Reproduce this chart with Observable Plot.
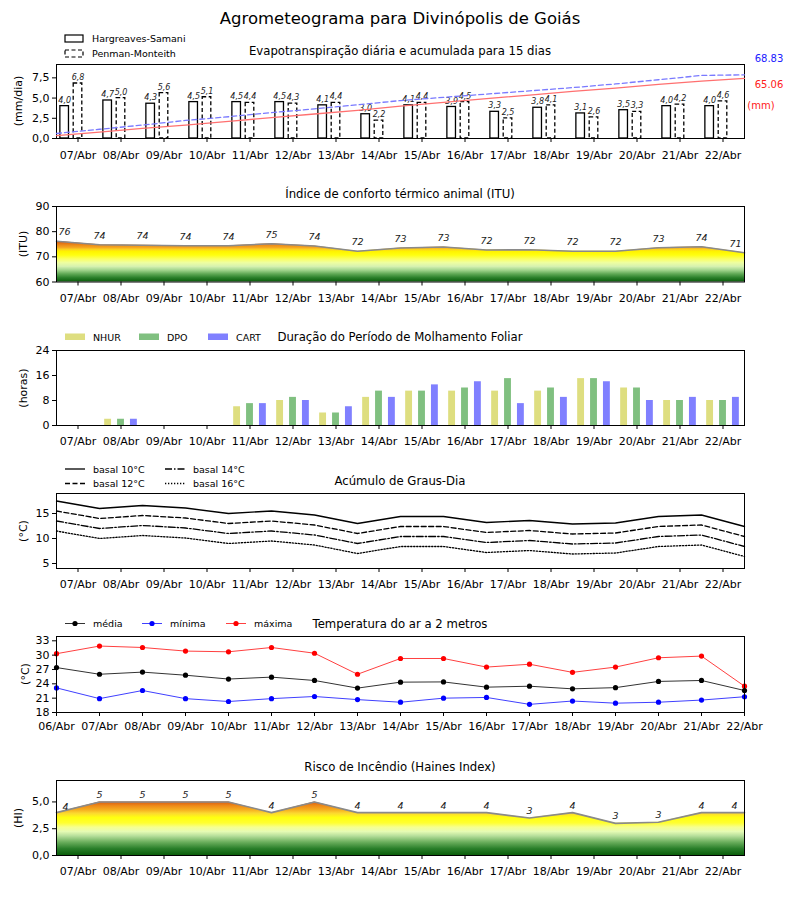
<!DOCTYPE html>
<html><head><meta charset="utf-8">
<script src="https://cdn.jsdelivr.net/npm/d3@7"></script>
<script src="https://cdn.jsdelivr.net/npm/@observablehq/plot@0.6"></script>
<style>
body{margin:0;background:#fff;font-family:"DejaVu Sans",sans-serif;}
#root{position:relative;width:800px;height:900px;overflow:hidden;background:#fff;}
</style></head><body><div id="root"></div>
<script>
// ---------- DATA ----------
const days = ["07/Abr","08/Abr","09/Abr","10/Abr","11/Abr","12/Abr","13/Abr","14/Abr","15/Abr","16/Abr","17/Abr","18/Abr","19/Abr","20/Abr","21/Abr","22/Abr"];
const daysTemp = ["06/Abr","07/Abr","08/Abr","09/Abr","10/Abr","11/Abr","12/Abr","13/Abr","14/Abr","15/Abr","16/Abr","17/Abr","18/Abr","19/Abr","20/Abr","21/Abr","22/Abr"];

const etHS = [4.0,4.7,4.3,4.5,4.5,4.5,4.1,3.0,4.1,3.9,3.3,3.8,3.1,3.5,4.0,4.0];
const etPM = [6.8,5.0,5.6,5.1,4.4,4.3,4.4,2.2,4.4,4.5,2.5,4.1,2.6,3.3,4.2,4.6];
const cumHS = [3.2,7.0,11.0,14.5,18.5,22.5,26.5,30.5,35.0,39.0,43.0,47.0,51.0,54.5,58.5,62.0,65.06];
const cumPM = [5.4,10.0,14.5,19.5,23.5,28.0,32.0,36.5,41.0,44.5,48.0,51.5,55.0,59.0,63.5,68.2,68.83];
const cumHSLabel = "65.06", cumPMLabel = "68.83";

const itu = [76.2,74.8,74.6,74.4,74.4,75.2,74.3,72.2,73.5,73.9,72.7,72.8,72.2,72.2,73.6,74.0,71.6];

const nhur = [0,2,0,0,6,8,4,9,11,11,11,11,15,12,8,8];
const dpo  = [0,2,0,0,7,9,4,11,11,12,15,12,15,12,8,8];
const cart = [0,2,0,0,7,8,6,9,13,14,7,9,14,8,9,9];

const gd10 = [17.5,16.0,16.6,16.1,15.0,15.5,14.7,13.0,14.4,14.4,13.2,13.6,12.9,13.1,14.4,14.7,12.4];
const gd12 = [15.5,14.0,14.6,14.1,13.0,13.5,12.7,11.0,12.4,12.4,11.2,11.6,10.9,11.1,12.4,12.7,10.4];
const gd14 = [13.5,12.0,12.6,12.1,11.0,11.5,10.7,9.0,10.4,10.4,9.2,9.6,8.9,9.1,10.4,10.7,8.4];
const gd16 = [11.5,10.0,10.6,10.1,9.0,9.5,8.7,7.0,8.4,8.4,7.2,7.6,6.9,7.1,8.4,8.7,6.4];

const tMed = [27.4,26.0,26.45,25.8,25.0,25.4,24.7,23.1,24.35,24.4,23.3,23.5,22.95,23.2,24.5,24.7,22.6];
const tMin = [23.15,20.9,22.6,20.9,20.3,20.9,21.35,20.7,20.15,21.0,21.15,19.7,20.4,19.95,20.15,20.6,21.3];
const tMax = [30.3,31.9,31.6,30.85,30.7,31.6,30.4,26.0,29.3,29.3,27.5,28.1,26.4,27.5,29.45,29.8,23.5];

const haines = [4,5,5,5,5,4,5,4,4,4,4,3.5,4,3,3.1,4,4];

// ---------- HELPERS ----------
const FONT = "DejaVu Sans";
const root = document.getElementById("root");
const fmt1 = v => v.toFixed(1).replace(".", ",");
const MT = 10, MB = 32;

function place(el, top) {
  el.style.position = "absolute";
  el.style.left = "0px";
  el.style.top = top + "px";
  root.appendChild(el);
}

function panel({top, h, yDomain, yTicks, yFmt, marks, xDomain = [-0.5, 15.5], xTicks = d3.range(16), xFmt = i => days[i], pad = 8}) {
  const p = Plot.plot({
    width: 800, height: MT + h + MB,
    marginTop: MT, marginBottom: MB, marginLeft: 56, marginRight: 56,
    style: {fontFamily: FONT, fontSize: "11px", color: "black", background: "transparent", overflow: "visible"},
    x: {domain: xDomain},
    y: {domain: yDomain},
    marks: [
      ...marks,
      Plot.frame({stroke: "black", strokeWidth: 1}),
      Plot.axisX({ticks: xTicks, tickFormat: xFmt, tickSize: 4, tickPadding: pad, label: null}),
      Plot.axisY({ticks: yTicks, tickFormat: yFmt, tickSize: 4, tickPadding: 3, label: null})
    ]
  });
  place(p, top - MT);
  return p;
}

function addGradient(plot, id, stops) {
  const y = plot.scale("y");
  const [d0, d1] = y.domain;
  const svg = d3.select(plot);
  const defs = svg.insert("defs", ":first-child");
  const g = defs.append("linearGradient").attr("id", id)
    .attr("gradientUnits", "userSpaceOnUse")
    .attr("x1", 0).attr("x2", 0)
    .attr("y1", y.apply(d0)).attr("y2", y.apply(d1));
  for (const [v, c] of stops) g.append("stop").attr("offset", (v - d0) / (d1 - d0)).attr("stop-color", c);
}

// ---------- PANEL 1: Evapotranspiração ----------
const et = days.map((d, i) => ({i, hs: etHS[i], pm: etPM[i]}));
panel({
  top: 64, h: 74, yDomain: [0, 9.15], yTicks: [0, 2.5, 5, 7.5], yFmt: fmt1, pad: 9,
  marks: [
    Plot.rect(et, {x1: d => d.i - 0.41, x2: d => d.i - 0.21, y1: d => 0, y2: "hs", fill: "white", stroke: "black", strokeWidth: 1.3}),
    Plot.rect(et, {x1: d => d.i - 0.1, x2: d => d.i + 0.1, y1: d => 0, y2: "pm", fill: "white", stroke: "black", strokeWidth: 1.3, strokeDasharray: "4,2.5"}),
    Plot.text(et, {x: d => d.i - 0.31, y: "hs", text: d => fmt1(d.hs), dy: -6, fontSize: 8, fontStyle: "italic", fill: "#222"}),
    Plot.text(et, {x: d => d.i, y: "pm", text: d => fmt1(d.pm), dy: -6, fontSize: 8, fontStyle: "italic", fill: "#222"})
  ]
});
// cumulative overlay (secondary scale)
const cumPlot = Plot.plot({
  width: 800, height: MT + 74 + MB, marginTop: MT, marginBottom: MB, marginLeft: 56, marginRight: 56,
  style: {background: "transparent", overflow: "visible"},
  x: {domain: [-0.5, 15.5], axis: null}, y: {domain: [0, 80], axis: null},
  marks: [
    Plot.line(cumHS, {x: (d, k) => k - 0.5, y: d => d, stroke: "#ff7070", strokeWidth: 1.3}),
    Plot.line(cumPM, {x: (d, k) => k - 0.5, y: d => d, stroke: "#7a7aff", strokeWidth: 1.3, strokeDasharray: "5,3"})
  ]
});
place(cumPlot, 64 - MT);

// ---------- PANEL 2: ITU ----------
const ituData = itu.map((v, k) => ({k, v}));
const p2 = panel({
  top: 206, h: 75.5, yDomain: [60, 90], yTicks: [60, 70, 80, 90], yFmt: d => d,
  marks: [
    Plot.areaY(ituData, {x: d => d.k - 0.5, y1: d => 60, y2: "v", fill: "url(#gradItu)"}),
    Plot.line(ituData, {x: d => d.k - 0.5, y: "v", stroke: "#8a8a8a", strokeWidth: 1.6}),
    Plot.text(ituData.slice(1, -1), {x: d => d.k - 0.5, y: "v", text: d => Math.floor(d.v), dy: -9, fontSize: 9.5, fontStyle: "italic", fill: "#222"}),
    Plot.text(ituData.slice(0, 1), {x: d => d.k - 0.5, y: "v", text: d => Math.floor(d.v), dy: -9, dx: 8, fontSize: 9.5, fontStyle: "italic", fill: "#222"}),
    Plot.text(ituData.slice(-1), {x: d => d.k - 0.5, y: "v", text: d => Math.floor(d.v), dy: -9, dx: -9, fontSize: 9.5, fontStyle: "italic", fill: "#222"})
  ]
});
addGradient(p2, "gradItu", [
  [60, "#0b5e0b"], [61.5, "#2a7f2a"], [63, "#5ea854"], [64.5, "#a0d48c"], [66, "#d6f2b0"],
  [67.5, "#eeffa0"], [69, "#fbff60"], [70.5, "#ffff10"], [72, "#fff200"], [72.8, "#fcd020"],
  [73.5, "#f5a820"], [74.5, "#ec8a18"], [75.5, "#e06810"], [77, "#d04a08"], [90, "#b00000"]
]);

// ---------- PANEL 3: Molhamento foliar ----------
const wet = days.map((d, i) => ({i, a: nhur[i], b: dpo[i], c: cart[i]}));
panel({
  top: 350, h: 75, yDomain: [0, 24], yTicks: [0, 8, 16, 24], yFmt: d => d,
  marks: [
    Plot.rect(wet, {x1: d => d.i - 0.38, x2: d => d.i - 0.22, y1: d => 0, y2: "a", fill: "#dede80"}),
    Plot.rect(wet, {x1: d => d.i - 0.08, x2: d => d.i + 0.08, y1: d => 0, y2: "b", fill: "#80c080"}),
    Plot.rect(wet, {x1: d => d.i + 0.22, x2: d => d.i + 0.38, y1: d => 0, y2: "c", fill: "#8080ff"})
  ]
});

// ---------- PANEL 4: Graus-dia ----------
const gdLine = (arr, dash) => Plot.line(arr, {x: (d, k) => k - 0.5, y: d => d, stroke: "black", strokeWidth: 1.3, strokeDasharray: dash});
panel({
  top: 493, h: 75, yDomain: [4, 19], yTicks: [5, 10, 15], yFmt: d => d,
  marks: [
    gdLine(gd10, null), gdLine(gd12, "5,2.5"), gdLine(gd14, "7,2,1.5,2"), gdLine(gd16, "1.3,1.7")
  ]
});

// ---------- PANEL 5: Temperatura ----------
const tSeries = (arr, c, lc) => [
  Plot.line(arr, {x: (d, k) => k, y: d => d, stroke: lc, strokeWidth: 1}),
  Plot.dot(arr, {x: (d, k) => k, y: d => d, fill: c, r: 2.6})
];
panel({
  top: 636, h: 76, yDomain: [18, 33.9], yTicks: [18, 21, 24, 27, 30, 33], yFmt: d => d, pad: 6,
  xDomain: [0, 16], xTicks: d3.range(17), xFmt: k => daysTemp[k],
  marks: [...tSeries(tMax, "red", "#ff4040"), ...tSeries(tMed, "black", "#333"), ...tSeries(tMin, "blue", "#4040ff")]
});

// ---------- PANEL 6: Haines ----------
const hData = haines.map((v, k) => ({k, v}));
const p6 = panel({
  top: 780, h: 75, yDomain: [0, 7], yTicks: [0, 2.5, 5], yFmt: fmt1,
  marks: [
    Plot.areaY(hData, {x: d => d.k - 0.5, y1: d => 0, y2: "v", fill: "url(#gradHaines)"}),
    Plot.line(hData, {x: d => d.k - 0.5, y: "v", stroke: "#8a8a8a", strokeWidth: 1.6}),
    Plot.text(hData.slice(1, -1), {x: d => d.k - 0.5, y: "v", text: d => Math.floor(d.v), dy: -7, fontSize: 9.5, fontStyle: "italic", fill: "#222"}),
    Plot.text(hData.slice(0, 1), {x: d => d.k - 0.5, y: "v", text: d => Math.floor(d.v), dy: -6, dx: 9, fontSize: 9.5, fontStyle: "italic", fill: "#222"}),
    Plot.text(hData.slice(-1), {x: d => d.k - 0.5, y: "v", text: d => Math.floor(d.v), dy: -7, dx: -10, fontSize: 9.5, fontStyle: "italic", fill: "#222"})
  ]
});
addGradient(p6, "gradHaines", [
  [0, "#0b5e0b"], [0.6, "#2a7f2a"], [1.2, "#6aae5c"], [1.8, "#b8e09c"], [2.2, "#e6fbb4"],
  [2.6, "#f6ff90"], [3.0, "#ffff30"], [3.5, "#ffff10"], [3.9, "#fcd830"], [4.2, "#f6b020"],
  [4.6, "#ee8a18"], [5.0, "#d85a10"], [7, "#b02000"]
]);

// ---------- TEXT OVERLAY (titles, legends, axis labels) ----------
const ov = d3.select(root).append("svg").attr("width", 800).attr("height", 900)
  .style("position", "absolute").style("left", 0).style("top", 0).style("pointer-events", "none")
  .style("font-family", FONT);
function t(x, y, str, {size = 11.7, anchor = "middle", fill = "black", rot = 0} = {}) {
  ov.append("text").attr("x", x).attr("y", y).attr("text-anchor", anchor)
    .attr("dominant-baseline", "central").attr("font-size", size).attr("fill", fill)
    .attr("transform", rot ? `rotate(${rot},${x},${y})` : null).text(str);
}
t(400, 18, "Agrometeograma para Divinópolis de Goiás", {size: 16.5});
t(400, 51, "Evapotranspiração diária e acumulada para 15 dias");
t(400, 194, "Índice de conforto térmico animal (ITU)");
t(400, 337, "Duração do Período de Molhamento Foliar");
t(400, 481, "Acúmulo de Graus-Dia");
t(400, 624, "Temperatura do ar a 2 metros");
t(400, 767, "Risco de Incêndio (Haines Index)");

t(18, 101, "(mm/dia)", {size: 11, rot: -90});
t(23, 244, "(ITU)", {size: 11, rot: -90});
t(23, 388, "(horas)", {size: 11, rot: -90});
t(23, 531, "(°C)", {size: 11, rot: -90});
t(25, 674, "(°C)", {size: 11, rot: -90});
t(18, 818, "(HI)", {size: 11, rot: -90});

t(769, 58, cumPMLabel, {size: 10, fill: "#2020ff"});
t(769, 84, cumHSLabel, {size: 10, fill: "#ff2020"});
t(761, 105.5, "(mm)", {size: 10, fill: "#ff2020"});

// legend P1
ov.append("rect").attr("x", 65).attr("y", 35).attr("width", 18).attr("height", 7).attr("fill", "white").attr("stroke", "black").attr("stroke-width", 1.2);
t(92, 38.5, "Hargreaves-Samani", {size: 9.5, anchor: "start"});
ov.append("rect").attr("x", 65).attr("y", 50).attr("width", 18).attr("height", 7).attr("fill", "white").attr("stroke", "black").attr("stroke-width", 1.2).attr("stroke-dasharray", "4,2.5");
t(92, 53.5, "Penman-Monteith", {size: 9.5, anchor: "start"});

// legend P3
[["NHUR", "#dede80", 65], ["DPO", "#80c080", 139], ["CART", "#8080ff", 208]].forEach(([n, c, x]) => {
  ov.append("rect").attr("x", x).attr("y", 333.5).attr("width", 20).attr("height", 6.5).attr("fill", c);
  t(x + 28, 337, n, {size: 9.5, anchor: "start"});
});

// legend P4
[["basal 10°C", null, 65, 469], ["basal 14°C", "7,2,1.5,2", 165, 469], ["basal 12°C", "5,2.5", 65, 483.5], ["basal 16°C", "1.3,1.7", 165, 483.5]].forEach(([n, dash, x, y]) => {
  ov.append("line").attr("x1", x).attr("x2", x + 20).attr("y1", y).attr("y2", y).attr("stroke", "black").attr("stroke-width", 1.3).attr("stroke-dasharray", dash);
  t(x + 28, y, n, {size: 9.5, anchor: "start"});
});

// legend P5
[["média", "black", "#333", 65], ["mínima", "blue", "#4040ff", 142], ["máxima", "red", "#ff4040", 226]].forEach(([n, c, lc, x]) => {
  ov.append("line").attr("x1", x).attr("x2", x + 20).attr("y1", 623.5).attr("y2", 623.5).attr("stroke", lc).attr("stroke-width", 1);
  ov.append("circle").attr("cx", x + 10).attr("cy", 623.5).attr("r", 2.6).attr("fill", c);
  t(x + 28, 623.5, n, {size: 9.5, anchor: "start"});
});
</script></body></html>
